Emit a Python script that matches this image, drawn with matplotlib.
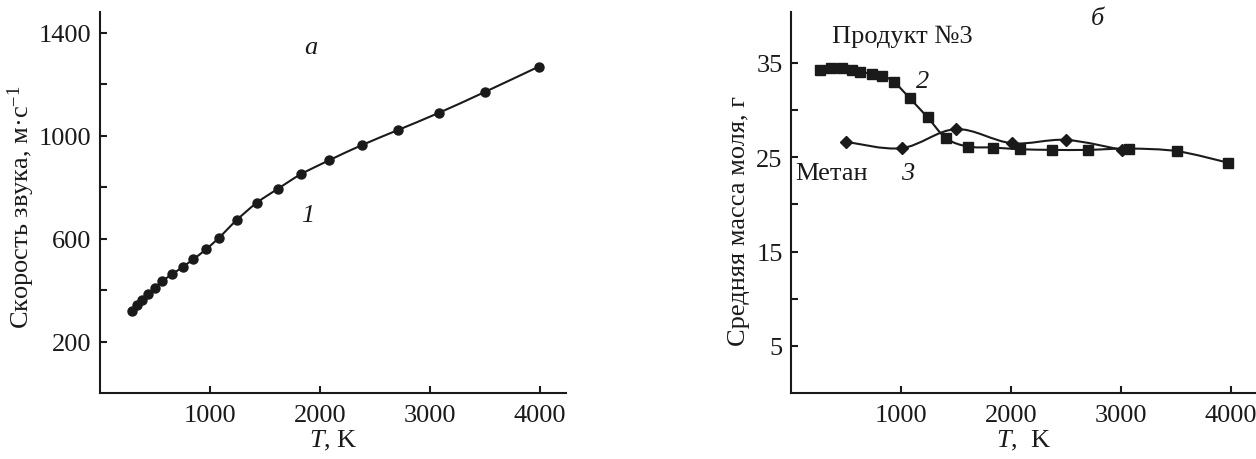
import matplotlib
matplotlib.use("Agg")
from matplotlib import pyplot as plt
from matplotlib.path import Path
from matplotlib.patches import PathPatch
import numpy as np

# panel a: speed of sound
t_sound = [294, 333, 379, 439, 500, 566, 657, 752, 848, 964, 1085, 1242,
           1427, 1621, 1829, 2085, 2383, 2708, 3082, 3505, 3993]
v_sound = [318, 340, 361, 386, 409, 435, 461, 490, 519, 558, 604, 671,
           739, 794, 850, 904, 963, 1021, 1088, 1170, 1268]

# panel b: mean molar mass
t_prod = [263, 365, 464, 553, 628, 734, 832, 941, 1079, 1243, 1414, 1612,
          1836, 2082, 2378, 2701, 3076, 3513, 3974]
m_prod = [34.26, 34.43, 34.43, 34.26, 34.08, 33.83, 33.65, 32.94, 31.28,
          29.22, 26.99, 26.13, 26.03, 25.85, 25.78, 25.78, 25.92, 25.64, 24.43]

t_meth = [503, 1007, 1500, 2007, 2500, 3013]
m_meth = [26.63, 25.96, 27.98, 26.49, 26.84, 25.78]

x_ticks = [1000, 2000, 3000, 4000]
y_ticks_a = [200, 600, 1000, 1400]
y_minor_a = [400, 800, 1200]
y_ticks_b = [5, 15, 25, 35]
y_minor_b = [10, 20, 30]

plt.rcParams['font.family'] = ['Liberation Serif', 'DejaVu Serif']
plt.rcParams['mathtext.fontset'] = 'custom'
plt.rcParams['mathtext.rm'] = 'Liberation Serif'
plt.rcParams['mathtext.it'] = 'Liberation Serif:italic'
FS = 19
LW = 1.5
INK = '#1a1a1a'


def smooth_line(ax, xs, ys):
    # catmull-rom curve through the points, drawn as bezier path
    p = np.column_stack([xs, ys]).astype(float)
    ext = np.vstack([p[0], p, p[-1]])
    verts = [p[0]]
    codes = [Path.MOVETO]
    for i in range(1, len(ext) - 2):
        c1 = ext[i] + (ext[i + 1] - ext[i - 1]) / 6
        c2 = ext[i + 1] - (ext[i + 2] - ext[i]) / 6
        verts += [c1, c2, ext[i + 1]]
        codes += [Path.CURVE4] * 3
    ax.add_patch(PathPatch(Path(verts, codes), fill=False, lw=LW, ec=INK))


def style(ax, yt, ym):
    for s in ['top', 'right']:
        ax.spines[s].set_visible(False)
    for s in ['left', 'bottom']:
        ax.spines[s].set_linewidth(1.5)
        ax.spines[s].set_color(INK)
    ax.set_xticks(x_ticks)
    ax.set_yticks(yt)
    ax.set_yticks(ym, minor=True)
    ax.tick_params(which='both', direction='in', length=5, width=1.5,
                   labelsize=FS, pad=6, color=INK, labelcolor=INK)
    ax.tick_params(axis='x', pad=8)
    ax.set_xlim(0, 4240)


fig = plt.figure(figsize=(12.56, 4.6), dpi=100)

ax1 = fig.add_axes([100 / 1256, 1 - 394 / 460, 466 / 1256, 381 / 460])
style(ax1, y_ticks_a, y_minor_a)
ax1.set_ylim(0, 1480)
smooth_line(ax1, t_sound, v_sound)
ax1.plot(t_sound, v_sound, 'o', ms=6.5, color=INK)
ax1.set_ylabel('Скорость звука, м·с$^{-1}$', fontsize=FS, color=INK)
ax1.yaxis.set_label_coords(-0.135, 0.49)
ax1.set_xlabel('$T$, K', fontsize=FS, labelpad=1, color=INK)
ax1.text(1915, 1345, 'a', fontsize=FS, style='italic', ha='center', va='center', color=INK)
ax1.text(1887, 690, '1', fontsize=FS, style='italic', ha='center', va='center', color=INK)

ax2 = fig.add_axes([791 / 1256, 1 - 394 / 460, 466 / 1256, 381 / 460])
style(ax2, y_ticks_b, y_minor_b)
ax2.set_ylim(0, 40.4)
smooth_line(ax2, t_prod, m_prod)
smooth_line(ax2, t_meth, m_meth)
ax2.plot(t_prod, m_prod, 's', ms=6.5, color=INK)
ax2.plot(t_meth, m_meth, 'D', ms=6.5, color=INK)
ax2.set_ylabel('Средняя масса моля, г', fontsize=FS, color=INK)
ax2.yaxis.set_label_coords(-0.088, 0.455)
ax2.set_xlabel('$T$,  K', fontsize=FS, labelpad=1, color=INK)
ax2.text(1013, 37.9, 'Продукт №3', fontsize=FS, ha='center', va='center', color=INK)
ax2.text(1194, 33.1, '2', fontsize=FS, style='italic', ha='center', va='center', color=INK)
ax2.text(40, 23.3, 'Метан', fontsize=FS, ha='left', va='center', color=INK)
ax2.text(1063, 23.3, '3', fontsize=FS, style='italic', ha='center', va='center', color=INK)
ax2.text(2789, 39.8, 'б', fontsize=FS, style='italic', ha='center', va='center', color=INK)

fig.savefig('out.png', dpi=100)
